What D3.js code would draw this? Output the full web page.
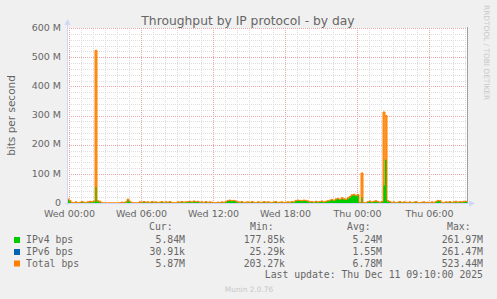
<!DOCTYPE html>
<html>
<head>
<meta charset="utf-8">
<script src="https://cdn.jsdelivr.net/npm/d3@7"></script>
<style>
  html, body { margin: 0; padding: 0; background: #F0F0F0; }
  svg { display: block; }
</style>
</head>
<body>
<div id="chart"></div>
<script>
// ---- data (Mbit/s, one value per 10 minutes, from Tue 23:50 to Thu 09:10) ----
const START = Date.UTC(2025, 11, 9, 23, 50);
const END = Date.UTC(2025, 11, 11, 9, 10);
const STEP_MIN = 10;

const totalBps = [
  14, 9, 2, 1, 4, 1, 2, 5, 3, 2,
  4, 6, 5, 7, 523.4, 8, 6, 1, 0.5, 0.5,
  0.5, 0.5, 0.5, 0.5, 0.5, 0.5, 0.8, 3, 2, 4,
  13, 6, 1, 0.8, 0.8, 0.8, 4, 3, 5, 3,
  4, 2, 5, 3, 4, 2, 3, 5, 2, 4,
  3, 5, 2, 1, 1, 4, 3, 5, 3, 4,
  5, 6, 4, 7, 5, 6, 3, 4, 2, 5,
  2, 4, 3, 1, 1, 3, 2, 4, 2, 5,
  9, 10, 8, 9, 7, 4, 3, 5, 2, 3,
  4, 2, 5, 3, 1, 4, 3, 2, 5, 3,
  4, 3, 2, 4, 5, 2, 3, 4, 2, 3,
  4, 3, 5, 4, 9, 10, 9, 8, 10, 9,
  7, 4, 5, 3, 6, 4, 5, 7, 4, 6,
  8, 10, 12, 9, 14, 16, 12, 18, 15, 13,
  18, 22, 28, 30, 26, 29, 2, 103, 1, 1,
  5, 7, 4, 6, 8, 5, 3, 5, 312, 300,
  8, 5, 2, 4, 1, 3, 5, 2, 4, 3,
  2, 4, 1, 3, 5, 2, 1, 3, 4, 2,
  3, 1, 4, 2, 5, 9, 8, 3, 2, 4,
  3, 5, 2, 4, 6, 3, 5, 4, 6, 5.9
];

const ipv4Bps = [
  10, 5, 1, 0.5, 2, 0.5, 1, 3, 1.5, 1,
  2, 3, 2, 3, 55, 4, 3, 0.5, 0.3, 0.3,
  0.3, 0.3, 0.3, 0.3, 0.3, 0.3, 0.5, 1.5, 1, 2,
  11, 4, 0.5, 0.4, 0.4, 0.4, 2, 1.5, 3, 1.5,
  2, 1, 2.5, 1.5, 2, 1, 1.5, 2.5, 1, 2,
  1.5, 2.5, 1, 0.5, 0.5, 2, 1.5, 2.5, 1.5, 2,
  3, 4, 2, 5, 3, 4, 1.5, 2, 1, 3,
  1, 2, 1.5, 0.5, 0.5, 1.5, 1, 2, 1, 2.5,
  7, 8, 6, 7, 5, 2, 1.5, 3, 1, 1.5,
  2, 1, 2.5, 1.5, 0.5, 2, 1.5, 1, 2.5, 1.5,
  2, 1.5, 1, 2, 2.5, 1, 1.5, 2, 1, 1.5,
  2, 1.5, 3, 2, 7, 8, 7, 6, 8, 7,
  5, 2, 3, 1.5, 4, 2, 3, 5, 2, 4,
  6, 8, 10, 7, 12, 14, 10, 15, 12, 10,
  15, 19, 25, 27, 23, 26, 1, 20, 0.5, 0.5,
  3, 4, 2, 4, 5, 3, 1.5, 3, 60, 148,
  5, 2.5, 1, 2, 0.5, 1.5, 2.5, 1, 2, 1.5,
  1, 2, 0.5, 1.5, 2.5, 1, 0.5, 1.5, 2, 1,
  1.5, 0.5, 2, 1, 3, 7, 6, 1.5, 1, 2,
  1.5, 2.5, 1, 2, 3, 1.5, 2.5, 2, 3, 5.8
];

const yTicks = [0, 100, 200, 300, 400, 500, 600];
const yTickLabels = ["0", "100 M", "200 M", "300 M", "400 M", "500 M", "600 M"];

const legendHead = ["Cur:", "Min:", "Avg:", "Max:"];
const legendRows = [
  { name: "IPv4 bps",  color: "#00CC00", vals: ["5.84M", "177.85k", "5.24M", "261.97M"] },
  { name: "IPv6 bps",  color: "#0066B3", vals: ["30.91k", "25.29k", "1.55M", "261.47M"] },
  { name: "Total bps", color: "#FF8000", vals: ["5.87M", "203.27k", "6.78M", "523.44M"] }
];

// ---- layout ----
const W = 497, H = 299;
const plot = { left: 67, right: 467, top: 28, bottom: 203 };
const FONT = "'DejaVu Sans', sans-serif";
const MONO = "'DejaVu Sans Mono', monospace";

const svg = d3.select("#chart").append("svg")
  .attr("width", W).attr("height", H)
  .style("font-family", FONT);

svg.append("rect").attr("width", W).attr("height", H).attr("fill", "#F0F0F0");
svg.append("rect")
  .attr("x", plot.left).attr("y", plot.top)
  .attr("width", plot.right - plot.left).attr("height", plot.bottom - plot.top)
  .attr("fill", "#FFFFFF");

const x = d3.scaleUtc().domain([START, END]).range([plot.left, plot.right]);
const y = d3.scaleLinear().domain([0, 600]).range([plot.bottom, plot.top]);

// ---- grid ----
const grid = svg.append("g").attr("shape-rendering", "crispEdges");
const hours = d3.utcHour.range(new Date(START), new Date(END));
grid.selectAll("line.vmin").data(hours.filter(d => d.getUTCHours() % 6 !== 0)).enter()
  .append("line")
  .attr("x1", d => Math.round(x(d)) + 0.5).attr("x2", d => Math.round(x(d)) + 0.5)
  .attr("y1", plot.top).attr("y2", plot.bottom)
  .attr("stroke", "#DDDDDD").attr("stroke-dasharray", "1,1");
d3.range(0, 601, 20).filter(v => v % 100 !== 0).forEach(v => {
  grid.append("line")
    .attr("x1", plot.left).attr("x2", plot.right)
    .attr("y1", Math.round(y(v)) + 0.5).attr("y2", Math.round(y(v)) + 0.5)
    .attr("stroke", "#DDDDDD").attr("stroke-dasharray", "1,1");
});
grid.selectAll("line.vmaj").data(hours.filter(d => d.getUTCHours() % 6 === 0)).enter()
  .append("line")
  .attr("x1", d => Math.round(x(d)) + 0.5).attr("x2", d => Math.round(x(d)) + 0.5)
  .attr("y1", plot.top).attr("y2", plot.bottom)
  .attr("stroke", "#E8A8A8").attr("stroke-dasharray", "1,1");
yTicks.filter(v => v > 0).forEach(v => {
  grid.append("line")
    .attr("x1", plot.left).attr("x2", plot.right)
    .attr("y1", Math.round(y(v)) + 0.5).attr("y2", Math.round(y(v)) + 0.5)
    .attr("stroke", "#E8A8A8").attr("stroke-dasharray", "1,1");
});

// ---- series ----
const pts = arr => {
  const p = arr.map((v, i) => ({ t: START + i * STEP_MIN * 60000, v }));
  p.push({ t: END, v: arr[arr.length - 1] });
  return p;
};

const area = d3.area().curve(d3.curveStepAfter)
  .x(d => x(d.t)).y0(y(0)).y1(d => y(d.v));
const line = d3.line().curve(d3.curveStepAfter)
  .x(d => x(d.t)).y(d => y(d.v));

svg.append("path").datum(pts(totalBps))
  .attr("d", area).attr("fill", "#FF8000").attr("opacity", 0.85);
svg.append("path").datum(pts(ipv4Bps))
  .attr("d", area).attr("fill", "#00CC00");
svg.append("path").datum(pts(totalBps))
  .attr("d", line).attr("fill", "none").attr("stroke", "#FF8000").attr("stroke-width", 1);

// ---- frame / axes ----
svg.append("line")
  .attr("x1", plot.right + 0.5).attr("x2", plot.right + 0.5)
  .attr("y1", plot.top - 1).attr("y2", plot.bottom)
  .attr("stroke", "#A0A0A0");

const axisColor = "#CFD6F8";
svg.append("line")
  .attr("x1", plot.left + 0.5).attr("x2", plot.left + 0.5)
  .attr("y1", plot.bottom + 2).attr("y2", plot.top - 6)
  .attr("stroke", axisColor);
svg.append("path")
  .attr("d", `M${plot.left - 2.5},${plot.top - 3} L${plot.left + 0.5},${plot.top - 9} L${plot.left + 3.5},${plot.top - 3} Z`)
  .attr("fill", axisColor);
svg.append("line")
  .attr("x1", plot.left - 2).attr("x2", plot.right + 3)
  .attr("y1", plot.bottom + 0.5).attr("y2", plot.bottom + 0.5)
  .attr("stroke", axisColor);
svg.append("path")
  .attr("d", `M${plot.right + 2},${plot.bottom - 2.5} L${plot.right + 8},${plot.bottom + 0.5} L${plot.right + 2},${plot.bottom + 3.5} Z`)
  .attr("fill", axisColor);

// ---- tick labels ----
svg.selectAll("text.ytick").data(yTicks).enter().append("text")
  .attr("x", 61).attr("y", d => y(d) - 0.5).attr("dy", "0.35em")
  .attr("text-anchor", "end").attr("font-size", 9.5).attr("fill", "#666666")
  .text((d, i) => yTickLabels[i]);

const sixHours = hours.filter(d => d.getUTCHours() % 6 === 0);
const fmt = d3.utcFormat("%a %H:%M");
svg.selectAll("text.xtick").data(sixHours).enter().append("text")
  .attr("x", d => x(d) + 0.5).attr("y", 216.5)
  .attr("text-anchor", "middle").attr("font-size", 9.5).attr("fill", "#666666")
  .text(d => fmt(d));

// ---- titles ----
svg.append("text")
  .attr("x", 248).attr("y", 24.5).attr("text-anchor", "middle")
  .attr("font-size", 12.3).attr("fill", "#666666")
  .text("Throughput by IP protocol - by day");

svg.append("text")
  .attr("transform", `translate(15,${(plot.top + plot.bottom) / 2}) rotate(-90)`)
  .attr("text-anchor", "middle").attr("font-size", 10.5).attr("fill", "#666666")
  .text("bits per second");

svg.append("text")
  .attr("transform", "translate(484,5) rotate(90)")
  .attr("text-anchor", "start").attr("font-size", 7.4).attr("fill", "#C8C8C8")
  .text("RRDTOOL / TOBI OETIKER");

// ---- legend ----
const colRight = [185, 285, 382, 483];
const colHeadX = [149, 250, 347, 447];
const rowY = [240, 252, 263.5];

legendHead.forEach((h, i) => {
  svg.append("text").attr("x", colHeadX[i]).attr("y", 227).attr("dy", "0.35em")
    .attr("font-family", MONO).attr("font-size", 9.8).attr("fill", "#666666")
    .text(h);
});

legendRows.forEach((r, j) => {
  svg.append("rect").attr("x", 14).attr("y", rowY[j] - 3).attr("width", 6).attr("height", 6)
    .attr("fill", r.color);
  svg.append("text").attr("x", 26).attr("y", rowY[j]).attr("dy", "0.35em")
    .attr("font-family", MONO).attr("font-size", 9.8).attr("fill", "#666666")
    .text(r.name);
  r.vals.forEach((v, i) => {
    svg.append("text").attr("x", colRight[i]).attr("y", rowY[j]).attr("dy", "0.35em")
      .attr("text-anchor", "end")
      .attr("font-family", MONO).attr("font-size", 9.8).attr("fill", "#666666")
      .text(v);
  });
});

svg.append("text").attr("x", 483).attr("y", 275).attr("dy", "0.35em")
  .attr("text-anchor", "end")
  .attr("font-family", MONO).attr("font-size", 9.8).attr("fill", "#666666")
  .text("Last update: Thu Dec 11 09:10:00 2025");

svg.append("text").attr("x", 249).attr("y", 289).attr("dy", "0.35em")
  .attr("text-anchor", "middle").attr("font-size", 7.4).attr("fill", "#C8C8C8")
  .text("Munin 2.0.76");
</script>
</body>
</html>
